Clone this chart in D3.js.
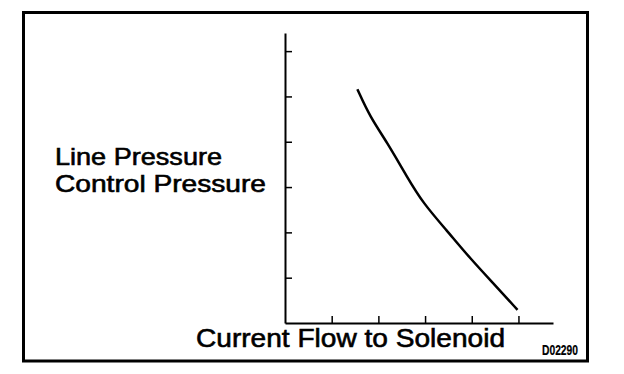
<!DOCTYPE html>
<html>
<head>
<meta charset="utf-8">
<script src="https://cdnjs.cloudflare.com/ajax/libs/d3/7.8.5/d3.min.js"></script>
<style>
  body { margin: 0; background: #fff; }
  text { font-family: "Liberation Sans", Arial, sans-serif; fill: #000; stroke: #000; stroke-width: 0.6px; }
</style>
</head>
<body>
<div id="chart"></div>
<script>

// curve (arbitrary units)
var current = [1.55, 1.82, 2.18, 2.61, 2.96, 3.46, 3.96, 4.53, 4.98];
var pressure = [5.16, 4.55, 4.0, 3.23, 2.64, 2.05, 1.43, 0.80, 0.29];
var xTicks = [1, 2, 3, 4, 5];
var yTicks = [1, 2, 3, 4, 5, 6];

var W = 624, H = 374;

var svg = d3.select("#chart")
  .append("svg")
    .attr("width", W)
    .attr("height", H);

// outer frame
svg.append("rect")
  .attr("x", 23.5)
  .attr("y", 12.5)
  .attr("width", 564)
  .attr("height", 348.5)
  .attr("fill", "none")
  .attr("stroke", "#000")
  .attr("stroke-width", 3);

var x = d3.scaleLinear()
  .domain([0, 5.74])
  .range([285, 553]);

var y = d3.scaleLinear()
  .domain([0, 6.4])
  .range([323, 33]);

// X axis, ticks pointing up
svg.append("g")
  .attr("transform", "translate(0,323)")
  .call(d3.axisBottom(x).tickValues(xTicks).tickSizeInner(-7).tickSizeOuter(0).tickFormat(""));

// Y axis, ticks pointing right
svg.append("g")
  .attr("transform", "translate(285,0)")
  .call(d3.axisLeft(y).tickValues(yTicks).tickSizeInner(-7).tickSizeOuter(0).tickFormat(""));

svg.selectAll(".domain").attr("stroke-width", 2);
svg.selectAll(".tick line").attr("stroke-width", 1.5);

var pts = current.map(function(d, i) { return [d, pressure[i]]; });

var line = d3.line()
  .x(function(d) { return x(d[0]); })
  .y(function(d) { return y(d[1]); })
  .curve(d3.curveBasis);

svg.append("path")
  .datum(pts)
  .attr("d", line)
  .attr("fill", "none")
  .attr("stroke", "#000")
  .attr("stroke-width", 2.5);

// labels
svg.append("text")
  .attr("x", 55).attr("y", 165)
  .attr("font-size", 24)
  .attr("textLength", 167).attr("lengthAdjust", "spacingAndGlyphs")
  .text("Line Pressure");

svg.append("text")
  .attr("x", 55).attr("y", 192)
  .attr("font-size", 24)
  .attr("textLength", 211).attr("lengthAdjust", "spacingAndGlyphs")
  .text("Control Pressure");

svg.append("text")
  .attr("x", 196).attr("y", 347)
  .attr("font-size", 26)
  .attr("textLength", 309).attr("lengthAdjust", "spacingAndGlyphs")
  .text("Current Flow to Solenoid");

svg.append("text")
  .attr("x", 542).attr("y", 355)
  .attr("font-size", 14)
  .attr("font-weight", "bold")
  .style("stroke-width", "0.2px")
  .attr("textLength", 36).attr("lengthAdjust", "spacingAndGlyphs")
  .text("D02290");

</script>
</body>
</html>
